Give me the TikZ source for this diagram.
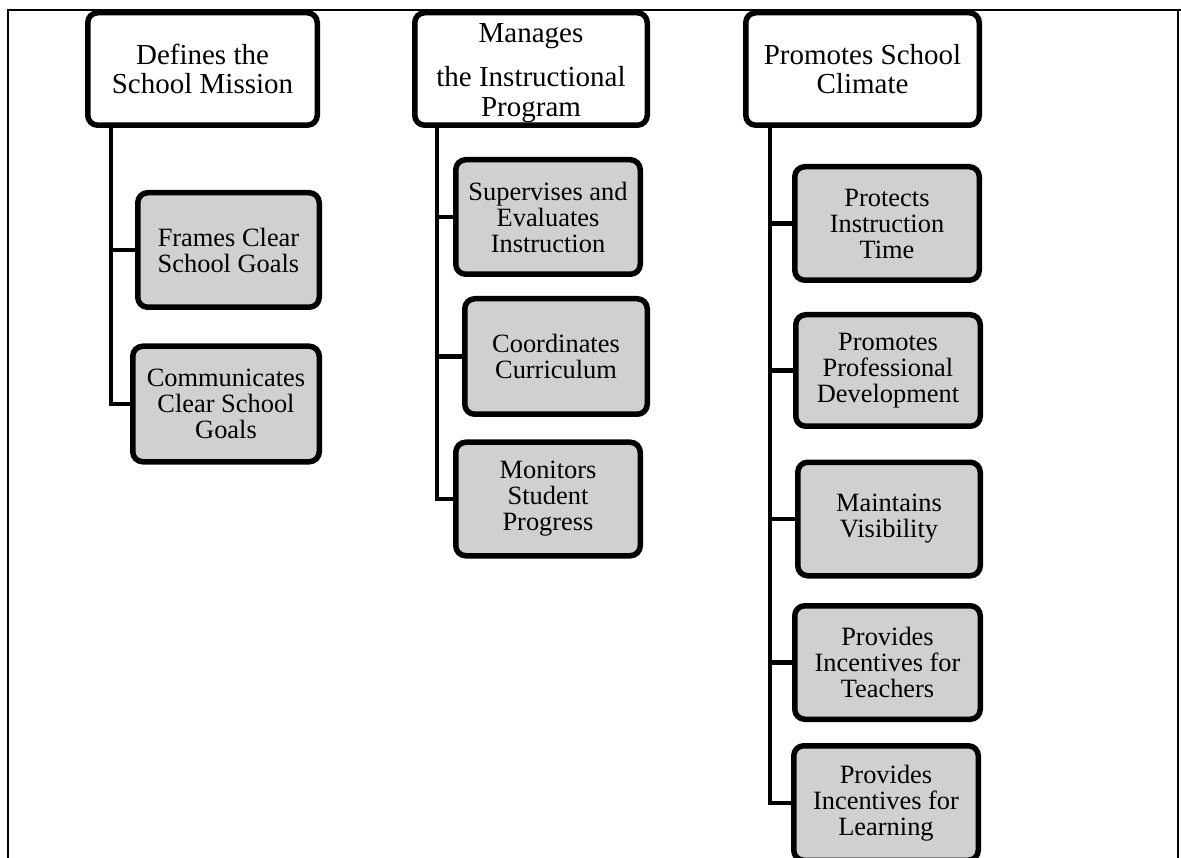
\documentclass[tikz,border=0pt]{standalone}
\usepackage{fontspec}
\setmainfont{Liberation Serif}
\definecolor{boxgray}{RGB}{208,208,208}
\begin{document}
\begin{tikzpicture}[x=1pt,y=-1pt,
  topbox/.style={draw=black,line width=5.5pt,rounded corners=10pt,fill=white,inner sep=0pt,align=center,
    font=\fontsize{29}{29}\selectfont},
  subbox/.style={draw=black,line width=5.5pt,rounded corners=10pt,fill=boxgray,inner sep=0pt,align=center,
    font=\fontsize{26.4}{26}\selectfont},
  conn/.style={draw=black,line width=4.5pt},
  frame/.style={draw=black,line width=2pt}]
\clip (0,0) rectangle (1181,858);
\useasboundingbox (0,0) rectangle (1181,858);
% frame
\coordinate (f1) at (8,858);
\coordinate (f2) at (8,10);
\coordinate (f3) at (1178,10);
\coordinate (f4) at (1178,858);
\coordinate (f5) at (1181,10);
\draw[frame] (f1) -- (f2) -- (f5);
\draw[frame] (f3) -- (f4);
% connector trunk origins
\coordinate (ta) at (111,120);
\coordinate (tb) at (437,120);
\coordinate (tc) at (770,120);
% sub boxes
\node[subbox,minimum width=181.5pt,minimum height=114.5pt] (A1) at (228.5,250) {Frames Clear\\School Goals};
\node[subbox,minimum width=186.5pt,minimum height=115.5pt] (A2) at (226,404) {Communicates\\Clear School\\Goals};
\node[subbox,minimum width=184.5pt,minimum height=114.5pt] (B1) at (548,217) {Supervises and\\Evaluates\\Instruction};
\node[subbox,minimum width=182.5pt,minimum height=115.5pt] (B2) at (556,356.5) {Coordinates\\Curriculum};
\node[subbox,minimum width=184.5pt,minimum height=113.5pt] (B3) at (548,499) {Monitors\\Student\\Progress};
\node[subbox,minimum width=184.5pt,minimum height=113.5pt] (C1) at (887,223.5) {Protects\\Instruction\\Time};
\node[subbox,minimum width=184.5pt,minimum height=111.5pt] (C2) at (888,370.5) {Promotes\\Professional\\Development};
\node[subbox,minimum width=182.5pt,minimum height=113.5pt] (C3) at (889,519) {Maintains\\Visibility};
\node[subbox,minimum width=185.5pt,minimum height=113.5pt] (C4) at (887.5,662.5) {Provides\\Incentives for\\Teachers};
\node[subbox,minimum width=184.5pt,minimum height=114.5pt] (C5) at (886,803) {Provides\\Incentives for\\Learning};
% connectors
\draw[conn] (ta) |- (A1.west);
\draw[conn] (ta) |- (A2.west);
\draw[conn] (tb) |- (B1.west);
\draw[conn] (tb) |- (B2.west);
\draw[conn] (tb) |- (B3.west);
\draw[conn] (tc) |- (C1.west);
\draw[conn] (tc) |- (C2.west);
\draw[conn] (tc) |- (C3.west);
\draw[conn] (tc) |- (C4.west);
\draw[conn] (tc) |- (C5.west);
% top boxes
\node[topbox,minimum width=229.5pt,minimum height=112.5pt] (A) at (202.5,69) {Defines the\\School Mission};
\node[topbox,minimum width=232.5pt,minimum height=112.5pt,font=\fontsize{29}{30}\selectfont] (B) at (531,69) {\rule{0pt}{28pt}Manages\\[14pt]the Instructional\\Program};
\node[topbox,minimum width=233.5pt,minimum height=112.5pt] (C) at (862.5,69) {Promotes School\\Climate};
\end{tikzpicture}
\end{document}
